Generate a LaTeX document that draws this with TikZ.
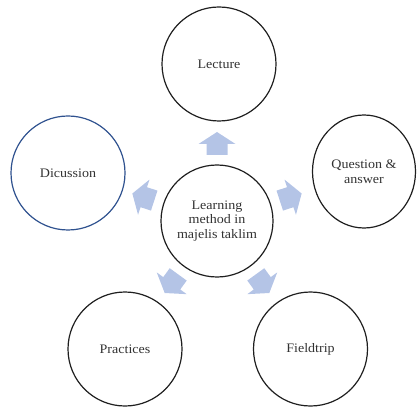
\documentclass[tikz,border=0pt]{standalone}
\usepackage{fontspec}
\setmainfont{Liberation Serif}[FakeStretch=1.08]
\usetikzlibrary{shapes.geometric,calc}
\definecolor{arrowblue}{RGB}{180,196,230}
\definecolor{ringblue}{RGB}{47,82,143}
\definecolor{txt}{RGB}{50,50,50}
\begin{document}
\begin{tikzpicture}[x=1pt,y=1pt,
  ring/.style={circle,draw=black!88,line width=1.2pt,minimum size=114pt,inner sep=0pt,align=center,text=txt,font=\fontsize{13}{14.5}\selectfont},
  bluering/.style={ring,draw=ringblue},
  blockarrow/.pic={\fill[arrowblue] (0,-10.5) -- (11,-10.5) -- (11,-18.5) -- (23,0) -- (11,18.5) -- (11,10.5) -- (0,10.5) -- cycle;}]
\useasboundingbox (0,0) rectangle (417,407);
\node[ring,minimum size=112pt] (c) at (217,186) {Learning\\method in\\majelis taklim};
\node[ring] (lec) at (219,343) {Lecture};
\node[ring,ellipse,minimum width=103pt,minimum height=113pt] (que) at (364,235.5) {Question \&\\answer};
\node[ring] (fie) at (310.5,58) {Fieldtrip};
\node[ring] (pra) at (125,58) {Practices};
\node[bluering] (dic) at (68,234) {Dicussion};
\foreach \a in {90,18,-54,-126,162}
  \pic[rotate=\a] at ($(c.center)+(\a:66)$) {blockarrow};
\end{tikzpicture}
\end{document}
